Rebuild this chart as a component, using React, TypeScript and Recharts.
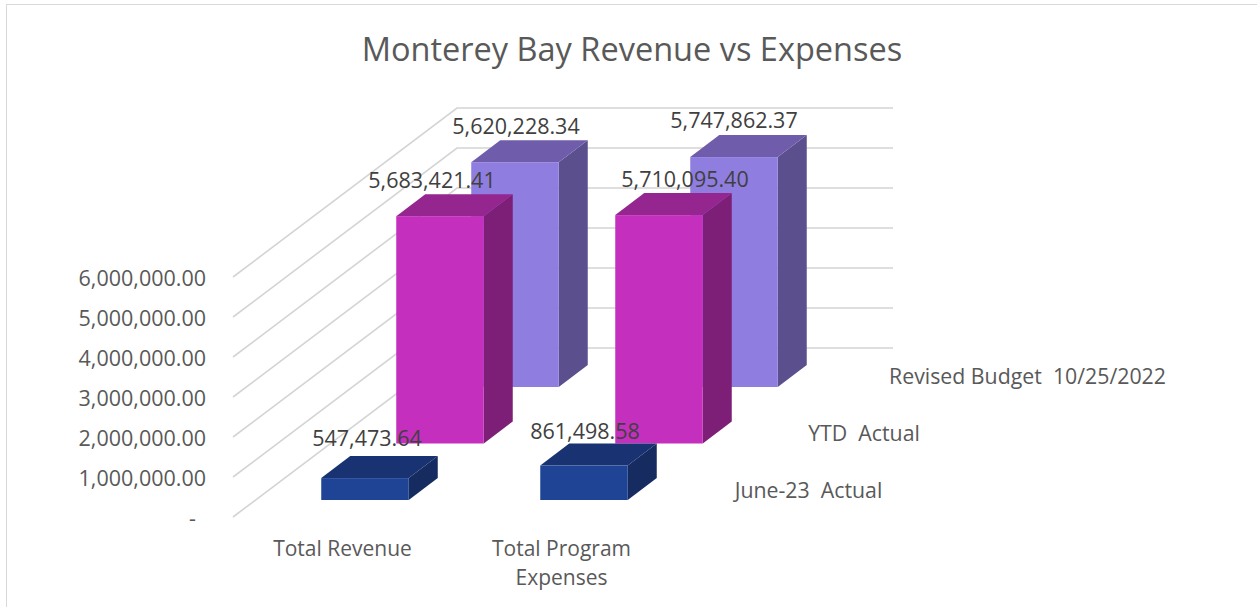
import { Bar, BarChart, CartesianGrid, LabelList, XAxis, YAxis } from "recharts";

const categories = ["Total Revenue", "Total Program Expenses"];
const juneActual = [547473.64, 861498.58];
const ytdActual = [5683421.41, 5710095.4];
const revisedBudget = [5620228.34, 5747862.37];
const yTicks = [0, 1000000, 2000000, 3000000, 4000000, 5000000, 6000000];

const FONT = "'Open Sans', sans-serif";
const BAR_WIDTH = 87.5;

const data = categories.map((name, i) => ({
    name,
    june: juneActual[i],
    ytd: ytdActual[i],
    budget: revisedBudget[i],
}));

const money = (v: number) =>
    v.toLocaleString("en-US", { minimumFractionDigits: 2, maximumFractionDigits: 2 });

// fake 3D: each series sits on its own row of the floor
const makeBox = (dx: number, dy: number, front: string, top: string, side: string) => (props: any) => {
    const x = props.x + dx;
    const y = props.y + dy;
    const w = props.width;
    const h = props.height;
    const ox = 29;
    const oy = -22;
    return (
        <g>
            <path d={`M${x + w},${y} l${ox},${oy} v${h} l${-ox},${-oy} Z`} fill={side} />
            <path d={`M${x},${y} l${ox},${oy} h${w} l${-ox},${-oy} Z`} fill={top} />
            <rect x={x} y={y} width={w} height={h} fill={front} />
        </g>
    );
};

const makeLabel = (dx: number, dy: number, nudge: number[], raise: number[]) => (props: any) => {
    const { x, y, width, value, index } = props;
    return (
        <text
            x={x + dx + width / 2 + nudge[index]}
            y={y + dy - raise[index]}
            textAnchor="middle"
            fontFamily={FONT}
            fontSize={21.5}
            fill="#404040"
        >
            {money(value)}
        </text>
    );
};

const YTick = ({ x, y, payload }: any) => (
    <text
        x={payload.value === 0 ? x - 10 : x}
        y={y + 8.5}
        textAnchor="end"
        fontFamily={FONT}
        fontSize={21.5}
        fill="#595959"
    >
        {payload.value === 0 ? "-" : money(payload.value)}
    </text>
);

const XTick = ({ x, y, payload }: any) => {
    const words = payload.value.split(" ");
    const lines = words.length > 2 ? [words.slice(0, 2).join(" "), words.slice(2).join(" ")] : [payload.value];
    return (
        <text textAnchor="middle" fontFamily={FONT} fontSize={21} fill="#595959">
            {lines.map((line: string, i: number) => (
                <tspan key={line} x={x} y={y + 31 + i * 29}>
                    {line}
                </tspan>
            ))}
        </text>
    );
};

const SlantGrid = ({ x1, y1 }: any) => (
    <path
        d={`M${x1},${y1} l224,-169 H893`}
        fill="none"
        stroke="#d4d4d4"
        strokeWidth={1.6}
    />
);

const SeriesName = ({ x, y, children }: any) => (
    <text
        x={x}
        y={y}
        textAnchor="middle"
        fontFamily={FONT}
        fontSize={21.3}
        fill="#595959"
        style={{ whiteSpace: "pre" }}
    >
        {children}
    </text>
);

export default function App() {
    return (
        <div style={{ position: "absolute", left: 0, top: 0, width: 1257, height: 607, overflow: "hidden", background: "#fff" }}>
            <div
                style={{
                    position: "absolute",
                    left: 6,
                    top: 4,
                    width: 1300,
                    height: 700,
                    borderLeft: "1.5px solid #d9d9d9",
                    borderTop: "1.5px solid #d9d9d9",
                }}
            />
            <BarChart
                width={1257}
                height={607}
                data={data}
                barSize={BAR_WIDTH}
                barGap={-BAR_WIDTH}
                margin={{ top: 277, right: 586, bottom: 0, left: 0 }}
            >
                <CartesianGrid horizontal={SlantGrid as any} vertical={false} />
                <XAxis
                    dataKey="name"
                    height={90}
                    axisLine={false}
                    tickLine={false}
                    interval={0}
                    tick={XTick as any}
                />
                <YAxis
                    width={233}
                    domain={[0, 6000000]}
                    ticks={yTicks}
                    axisLine={false}
                    tickLine={false}
                    tickMargin={0}
                    tick={(p: any) => <YTick {...p} x={206} />}
                />
                <Bar dataKey="budget" isAnimationActive={false} shape={makeBox(172.25, -130, "#8f7ee0", "#6f5dab", "#5b4f8d")}>
                    <LabelList dataKey="budget" content={makeLabel(172.25, -130, [1, 0], [28, 29])} />
                </Bar>
                <Bar dataKey="ytd" isAnimationActive={false} shape={makeBox(97.25, -73.5, "#c430bd", "#952690", "#7d1f77")}>
                    <LabelList dataKey="ytd" content={makeLabel(97.25, -74, [-8, 26], [28, 28])} />
                </Bar>
                <Bar dataKey="june" isAnimationActive={false} shape={makeBox(22.25, -17, "#1f4496", "#183272", "#162b60")}>
                    <LabelList dataKey="june" content={makeLabel(22.25, -17, [2, 1], [32, 27])} />
                </Bar>
                <text
                    x={632}
                    y={61}
                    textAnchor="middle"
                    fontFamily={FONT}
                    fontSize={32.5}
                    fill="#595959"
                >
                    Monterey Bay Revenue vs Expenses
                </text>
                <SeriesName x={1027.5} y={384}>{"Revised Budget  10/25/2022"}</SeriesName>
                <SeriesName x={864} y={441}>{"YTD  Actual"}</SeriesName>
                <SeriesName x={808.5} y={498}>{"June-23  Actual"}</SeriesName>
            </BarChart>
        </div>
    );
}
